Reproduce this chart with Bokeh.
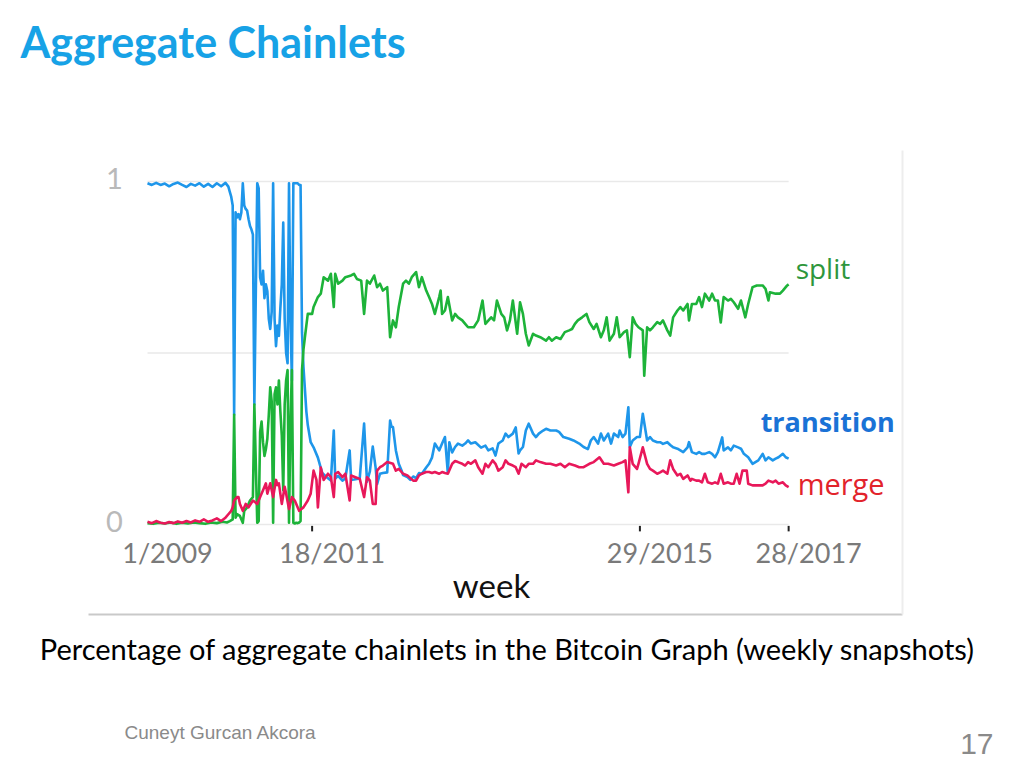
from bokeh.plotting import figure
from bokeh.models import Range1d
from bokeh.core.properties import value
from bokeh.embed import file_html
from bokeh.resources import INLINE

# ---------------- data (week index since 1/2009, share of chainlets) ----------------
transition_weeks = [0, 3, 6, 9, 12, 15, 18, 21, 24, 27, 30, 33, 36, 39, 42, 45, 48, 51, 54, 56, 57, 58, 59,
                    60, 61, 62, 63, 64, 65, 66, 67, 68, 69, 70, 71, 72, 73, 74, 76, 77,
                    78, 79, 80, 81, 82, 83, 84, 85, 86, 87, 88, 89, 90, 91, 92, 93, 94, 95, 96, 97,
                    98, 99, 100, 101, 102, 103, 104, 105, 106, 107, 108, 110, 111, 113, 115, 118,
                    121, 123, 125, 127, 129, 130, 132, 135, 137, 140, 141, 143, 145, 147, 150, 152,
                    154, 156, 158, 159, 161, 163, 166, 168, 169, 170, 172, 174, 176, 177, 180, 182,
                    184, 186, 188, 190, 193, 195, 197, 199, 202, 204, 206, 208, 209, 211, 213, 215,
                    218, 220, 222, 224, 227, 231, 234, 236, 239, 241, 243, 246, 248, 250, 253, 255,
                    257, 258, 260, 262, 264, 267, 269, 271, 274, 276, 279, 283, 285, 288, 292, 295,
                    299, 302, 305, 307, 309, 312, 314, 316, 319, 321, 323, 326, 327, 329, 331, 333,
                    334, 336, 339, 341, 343, 346, 348, 350, 353, 355, 357, 360, 362, 364, 367, 369,
                    371, 374, 375, 377, 380, 382, 384, 386, 389, 391, 393, 395, 398, 399, 402, 404,
                    406, 409, 411, 413, 416, 419, 421, 423, 426, 428, 430, 433, 435, 437, 440, 442, 444]
transition_vals = [0.995, 0.99, 0.996, 0.99, 0.994, 0.986, 0.993, 0.997, 0.99, 0.984, 0.993, 0.988, 0.995,
                   0.985, 0.993, 0.984, 0.995, 0.986, 0.996, 0.985, 0.97, 0.955, 0.93,
                   0.32, 0.91, 0.895, 0.905, 0.89, 0.91, 0.995, 0.93, 0.92, 0.915, 0.89, 0.87, 0.86, 0.845,
                   0.35, 0.995, 0.98,
                   0.72, 0.70, 0.74, 0.66, 0.70, 0.68, 0.60, 0.57, 0.62, 0.995, 0.60, 0.52, 0.58, 0.55,
                   0.63, 0.70, 0.88, 0.60, 0.50, 0.47,
                   0.995, 0.60, 0.42, 0.995, 0.995, 0.995, 0.995, 0.99, 0.99, 0.56, 0.46, 0.33, 0.29,
                   0.24, 0.225, 0.195,
                   0.15, 0.142, 0.135, 0.128, 0.274, 0.134, 0.142, 0.128, 0.134, 0.216, 0.13, 0.131,
                   0.133, 0.135, 0.294, 0.125,
                   0.155, 0.227, 0.165, 0.118, 0.148, 0.15, 0.152, 0.303, 0.285, 0.284, 0.216, 0.177,
                   0.157, 0.144, 0.138, 0.13,
                   0.14, 0.135, 0.15, 0.148, 0.166, 0.177, 0.195, 0.236, 0.216, 0.236, 0.255, 0.15,
                   0.24, 0.21, 0.226, 0.236,
                   0.23, 0.236, 0.245, 0.236, 0.24, 0.224, 0.23, 0.216, 0.222, 0.201, 0.236, 0.245,
                   0.265, 0.255, 0.265, 0.283,
                   0.207, 0.216, 0.226, 0.274, 0.294, 0.265, 0.255, 0.265, 0.274, 0.279, 0.274, 0.274,
                   0.27, 0.255, 0.25, 0.245,
                   0.236, 0.226, 0.22, 0.245, 0.255, 0.236, 0.265, 0.245, 0.265, 0.236, 0.265, 0.255,
                   0.274, 0.255, 0.265, 0.342,
                   0.226, 0.245, 0.255, 0.255, 0.323, 0.245, 0.255, 0.245, 0.24, 0.24, 0.235, 0.24,
                   0.232, 0.225, 0.221, 0.216,
                   0.211, 0.225, 0.24, 0.211, 0.206, 0.211, 0.206, 0.206, 0.211, 0.206, 0.196, 0.211,
                   0.254, 0.216, 0.225, 0.216,
                   0.23, 0.225, 0.221, 0.206, 0.196, 0.177, 0.182, 0.187, 0.206, 0.187, 0.196, 0.187,
                   0.192, 0.196, 0.206, 0.196, 0.192]

split_weeks = [0, 4, 8, 12, 16, 20, 24, 28, 32, 36, 40, 44, 48, 52, 55, 57, 59,
               60, 61, 62, 64, 66, 67, 69, 71, 73, 74, 76, 77, 78, 79, 80, 81, 82, 83, 84, 85, 86,
               87, 88, 89, 90, 91, 92, 93, 94, 95, 96, 97, 98, 99, 100, 101, 102, 103, 104, 105, 106,
               107, 108, 109, 111, 114, 115, 118, 120, 122, 125, 127, 129, 130, 132, 135, 137, 141,
               143, 145, 148, 150, 152, 154, 157, 159, 161, 163, 166, 168, 170, 172, 174, 177, 179,
               181, 183, 186, 188, 190, 193, 195, 197, 199, 202, 203, 204, 206, 208, 211, 213, 215,
               218, 220, 222, 226, 229, 232, 234, 238, 240, 242, 245, 247, 249, 251, 253, 256, 258,
               260, 262, 264, 267, 269, 272, 276, 278, 280, 283, 286, 289, 292, 294, 296, 298, 301,
               304, 306, 309, 311, 314, 316, 318, 320, 323, 325, 327, 330, 332, 334, 336, 338, 340,
               343, 344, 346, 348, 350, 353, 355, 357, 360, 362, 364, 367, 369, 371, 374, 375, 377,
               380, 382, 384, 386, 389, 391, 393, 395, 397, 399, 402, 404, 406, 409, 411, 414, 416,
               419, 422, 426, 428, 430, 431, 435, 438, 440, 443, 444]
split_vals = [0.004, 0.002, 0.005, 0.003, 0.006, 0.002, 0.005, 0.003, 0.006, 0.004, 0.002, 0.006, 0.004,
              0.008, 0.006, 0.01, 0.015,
              0.32, 0.02, 0.03, 0.025, 0.005, 0.04, 0.05, 0.07, 0.08, 0.35, 0.005, 0.01, 0.27, 0.30,
              0.24, 0.20, 0.22, 0.25, 0.32, 0.40, 0.36,
              0.005, 0.38, 0.40, 0.35, 0.42, 0.33, 0.26, 0.10, 0.35, 0.42, 0.45, 0.005, 0.30, 0.45,
              0.005, 0.003, 0.005, 0.004, 0.006, 0.01,
              0.45, 0.51, 0.546, 0.614, 0.614, 0.634, 0.663, 0.673, 0.721, 0.711, 0.731, 0.634,
              0.731, 0.702, 0.711, 0.721, 0.726,
              0.731, 0.716, 0.711, 0.614, 0.711, 0.702, 0.726, 0.692, 0.702, 0.682, 0.692, 0.546,
              0.595, 0.575, 0.634, 0.702, 0.711,
              0.702, 0.721, 0.736, 0.692, 0.721, 0.682, 0.663, 0.643, 0.614, 0.663, 0.682, 0.614,
              0.624, 0.663, 0.595, 0.614, 0.604,
              0.595, 0.585, 0.575, 0.575, 0.595, 0.653, 0.585, 0.604, 0.595, 0.653, 0.614, 0.604,
              0.566, 0.595, 0.653, 0.556, 0.648,
              0.614, 0.556, 0.522, 0.556, 0.551, 0.546, 0.536, 0.546, 0.536, 0.546, 0.541, 0.561,
              0.566, 0.570, 0.585, 0.595, 0.604,
              0.614, 0.590, 0.570, 0.585, 0.546, 0.566, 0.604, 0.536, 0.556, 0.604, 0.546, 0.561,
              0.566, 0.488, 0.604, 0.585, 0.575,
              0.566, 0.434, 0.575, 0.566, 0.575, 0.590, 0.585, 0.595, 0.566, 0.551, 0.604, 0.624,
              0.634, 0.624, 0.643, 0.595, 0.643,
              0.643, 0.663, 0.634, 0.673, 0.653, 0.673, 0.653, 0.653, 0.589, 0.663, 0.653, 0.658,
              0.648, 0.629, 0.653, 0.604, 0.643,
              0.692, 0.697, 0.697, 0.687, 0.653, 0.677, 0.673, 0.673, 0.682, 0.697, 0.70]

merge_weeks = [0, 3, 6, 9, 12, 15, 18, 21, 24, 27, 30, 33, 36, 39, 42, 45, 48, 51, 54, 56, 58,
               59, 60, 62, 63, 64, 66, 68, 70, 73, 76, 78, 80, 82, 83, 85, 87, 89, 90, 91, 93, 95,
               96, 98, 100, 102, 105, 108, 111, 113, 115, 117, 118, 120, 122, 125, 127, 129, 130,
               132, 135, 137, 140, 141, 144, 147, 150, 152, 154, 156, 158, 159, 161, 163, 166, 170,
               172, 174, 177, 180, 184, 186, 188, 190, 193, 195, 197, 199, 202, 204, 206, 208, 211,
               213, 215, 218, 220, 222, 224, 227, 229, 232, 234, 236, 239, 241, 243, 246, 248, 250,
               253, 255, 257, 259, 262, 264, 267, 269, 272, 276, 279, 283, 286, 289, 292, 296, 299,
               302, 306, 309, 313, 316, 319, 323, 326, 329, 331, 333, 334, 336, 339, 340, 343, 346,
               348, 350, 353, 355, 357, 360, 362, 364, 367, 369, 371, 374, 376, 377, 380, 382, 384,
               386, 388, 391, 393, 395, 397, 399, 402, 404, 406, 408, 410, 412, 415, 416, 419, 422,
               426, 428, 430, 433, 435, 437, 440, 442, 444]
merge_vals = [0.008, 0.004, 0.01, 0.005, 0.003, 0.007, 0.004, 0.009, 0.005, 0.01, 0.006, 0.012, 0.008,
              0.015, 0.008, 0.012, 0.018, 0.01, 0.02, 0.03, 0.04,
              0.05, 0.07, 0.08, 0.08, 0.06, 0.04, 0.06, 0.05, 0.07, 0.06, 0.08, 0.10, 0.12, 0.09,
              0.12, 0.08, 0.13, 0.115, 0.12, 0.06, 0.11,
              0.09, 0.045, 0.08, 0.07, 0.04, 0.05, 0.07, 0.09, 0.157, 0.13, 0.05, 0.166, 0.13,
              0.148, 0.138, 0.08, 0.148,
              0.153, 0.138, 0.148, 0.07, 0.143, 0.138, 0.133, 0.08, 0.138, 0.128, 0.06, 0.06, 0.157,
              0.167, 0.172, 0.182, 0.177,
              0.157, 0.162, 0.148, 0.143, 0.128, 0.128, 0.143, 0.148, 0.153, 0.153, 0.15, 0.153,
              0.148, 0.153, 0.15, 0.148, 0.177,
              0.185, 0.182, 0.177, 0.172, 0.182, 0.177, 0.187, 0.167, 0.148, 0.177, 0.167, 0.187,
              0.177, 0.157, 0.167, 0.187, 0.177,
              0.172, 0.167, 0.148, 0.177, 0.167, 0.177, 0.177, 0.187, 0.182, 0.177, 0.177, 0.172,
              0.177, 0.167, 0.177, 0.172, 0.167,
              0.167, 0.177, 0.182, 0.196, 0.177, 0.177, 0.172, 0.177, 0.182, 0.187, 0.094, 0.225,
              0.177, 0.162, 0.177, 0.225, 0.177,
              0.162, 0.157, 0.148, 0.152, 0.157, 0.148, 0.187, 0.162, 0.143, 0.148, 0.133, 0.143,
              0.128, 0.133, 0.128, 0.128, 0.123,
              0.148, 0.123, 0.119, 0.123, 0.119, 0.148, 0.119, 0.123, 0.119, 0.119, 0.148, 0.119,
              0.157, 0.157, 0.119, 0.114, 0.114,
              0.114, 0.119, 0.128, 0.123, 0.128, 0.119, 0.123, 0.114, 0.109]

tick_weeks = [0, 114, 341, 444]
tick_labels = ["1/2009", "18/2011", "29/2015", "28/2017"]
tick_mark_weeks = [114, 341, 444]
y_ticks = [0, 1]
y_tick_labels = ["0", "1"]
grid_levels = [0, 0.5, 1]

series_names = ["split", "transition", "merge"]

TITLE = "Aggregate Chainlets"
CAPTION = "Percentage of aggregate chainlets in the Bitcoin Graph (weekly snapshots)"
X_TITLE = "week"
AUTHOR = "Cuneyt Gurcan Akcora"
PAGE = "17"

W, H = 1016, 760
BLUE, GREEN, RED = "#1e96ea", "#1db339", "#e8185a"

# One canvas: default ranges are slide pixels (y down); the chart uses extra ranges
p = figure(width=W, height=H, x_range=Range1d(0, W), y_range=Range1d(H, 0), title=None,
           output_backend="svg", toolbar_location=None, x_axis_location=None, y_axis_location=None,
           min_border_left=0, min_border_right=0, min_border_top=0, min_border_bottom=0)
p.grid.visible = False
p.outline_line_color = None
p.background_fill_color = "white"
p.border_fill_color = "white"
p.extra_x_ranges = {"week": Range1d(-101.8, 601.8)}
p.extra_y_ranges = {"share": Range1d(-0.688, 1.5277)}
CH = dict(x_range_name="week", y_range_name="share")

# slide texts
p.text(x=[20], y=[41], text=[TITLE], text_font=value("Lato"), text_font_style="bold",
       text_font_size="43px", text_color="#17a2e6", text_baseline="middle", text_align="left")
p.text(x=[507], y=[648], text=[CAPTION], text_font=value("Lato"), text_font_size="29px",
       text_color="#000000", text_align="center", text_baseline="middle")
p.text(x=[124], y=[732], text=[AUTHOR], text_font=value("Liberation Sans"), text_font_size="19px",
       text_color="#8a8a8a", text_align="left", text_baseline="middle")
p.text(x=[993], y=[743], text=[PAGE], text_font=value("Liberation Sans"), text_font_size="30px",
       text_color="#8a8a8a", text_align="right", text_baseline="middle")

# chart image frame (bottom rule and faint right edge)
p.segment(x0=[88, 902], y0=[614, 150], x1=[902, 902], y1=[614, 614],
          line_color=["#c9c9c9", "#ededed"], line_width=2)

# chart grid
x0 = [transition_weeks[0]] * len(grid_levels)
x1 = [transition_weeks[-1]] * len(grid_levels)
p.segment(x0=x0, y0=grid_levels, x1=x1, y1=grid_levels, line_color="#e9e9e9", line_width=1.5, **CH)

# series
p.line(transition_weeks, transition_vals, line_color=BLUE, line_width=2.6, line_join="round", **CH)
p.line(split_weeks, split_vals, line_color=GREEN, line_width=2.6, line_join="round", **CH)
p.line(merge_weeks, merge_vals, line_color=RED, line_width=2.6, line_join="round", **CH)

# x tick marks and labels
p.segment(x0=tick_mark_weeks, y0=[-0.004] * 3, x1=tick_mark_weeks, y1=[-0.02] * 3,
          line_color="#222222", line_width=2, **CH)
p.text(x=tick_weeks, y=[0] * len(tick_weeks), text=tick_labels, x_offset=20, y_offset=28,
       text_font=value("Lato"), text_font_size="27px", text_color="#7a7a7a",
       text_align="center", text_baseline="middle", **CH)
p.text(x=[491], y=[584], text=[X_TITLE], text_font=value("Lato"), text_font_size="33px",
       text_color="#111111", text_align="center", text_baseline="middle")
# y labels
p.text(x=[0] * 2, y=y_ticks, text=y_tick_labels, x_offset=-33, y_offset=-3,
       text_font=value("Lato"), text_font_size="29px", text_color="#b9b9b9",
       text_align="center", text_baseline="middle", **CH)

# series labels at the end of each line
p.text(x=[split_weeks[-1]], y=[split_vals[-1]], text=[series_names[0]], x_offset=7, y_offset=-16,
       text_font=value("Open Sans"), text_font_size="28px", text_color="#2e963c",
       text_align="left", text_baseline="middle", **CH)
p.text(x=[transition_weeks[-1]], y=[transition_vals[-1]], text=[series_names[1]], x_offset=-28,
       y_offset=-37, text_font=value("Open Sans"), text_font_style="bold", text_font_size="27px",
       text_color="#1a72d6", text_align="left", text_baseline="middle", **CH)
p.text(x=[merge_weeks[-1]], y=[merge_vals[-1]], text=[series_names[2]], x_offset=9, y_offset=-4,
       text_font=value("Open Sans"), text_font_size="29px", text_color="#e2232b",
       text_align="left", text_baseline="middle", **CH)

open("out.html", "w").write(file_html(p, INLINE))
